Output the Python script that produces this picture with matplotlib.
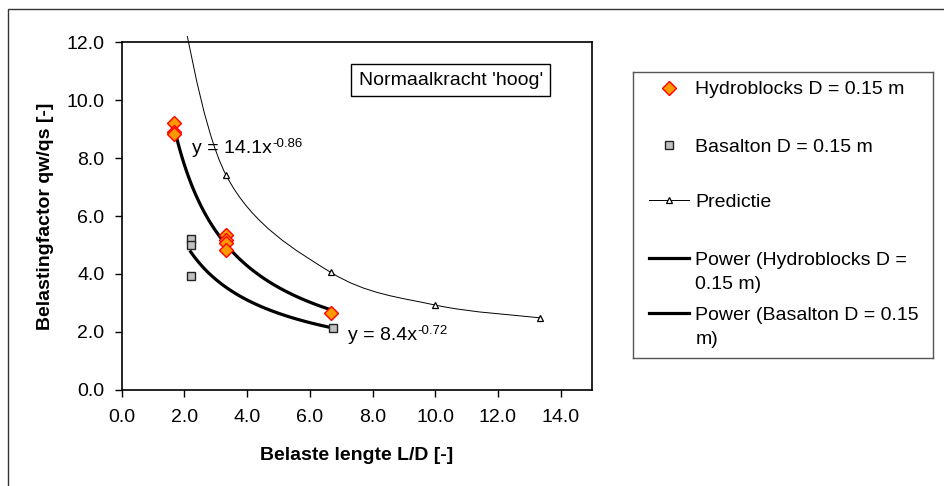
import numpy as np
import matplotlib
matplotlib.use("Agg")
import matplotlib.pyplot as plt
from matplotlib.path import Path
from matplotlib.patches import PathPatch, Rectangle

plt.rcParams["font.family"] = ["Liberation Sans", "DejaVu Sans"]

FS = 14

# data
hydro_x = [1.67, 1.67, 1.67, 3.33, 3.33, 3.33, 3.33, 6.67]
hydro_y = [9.23, 8.91, 8.83, 5.34, 5.17, 5.08, 4.82, 2.66]
basalt_x = [2.2, 2.2, 2.2, 6.75]
basalt_y = [5.19, 5.0, 3.92, 2.13]
pred_x = [1.67, 3.33, 6.67, 10.0, 13.33]
pred_y = [14.5, 7.41, 4.05, 2.92, 2.48]  # first point lies above the plot

# power trendlines as printed on the chart (a, b) -> y = a * x^b
trend_hydro = (14.1, -0.86)
trend_basalt = (8.4, -0.72)

xticks = [0, 2, 4, 6, 8, 10, 12, 14]
yticks = [0, 2, 4, 6, 8, 10, 12]

lbl_hydro = "Hydroblocks D = 0.15 m"
lbl_basalt = "Basalton D = 0.15 m"
lbl_pred = "Predictie"
lbl_pow_hydro = "Power (Hydroblocks D =\n0.15 m)"
lbl_pow_basalt = "Power (Basalton D = 0.15\nm)"

W, H = 945, 486
fig = plt.figure(figsize=(W / 100, H / 100), dpi=100)

# outer chart border (only top and left visible)
fig.add_artist(Rectangle((8 / W, -0.5), 2, 1.5 - 9 / H, transform=fig.transFigure,
                         fill=False, ec="#333333", lw=1))

ax = fig.add_axes([121.7 / W, 1 - 389.5 / H, (592 - 121.7) / W, 347 / H])


def smooth_path(xs, ys):
    # excel-like smoothed line: bezier segments through the data points
    pts = np.column_stack([xs, ys])
    n = len(pts)
    verts = [pts[0]]
    codes = [Path.MOVETO]
    for i in range(n - 1):
        p0 = pts[max(i - 1, 0)]
        p1 = pts[i]
        p2 = pts[i + 1]
        p3 = pts[min(i + 2, n - 1)]
        verts += [p1 + (p2 - p0) / 6, p2 - (p3 - p1) / 6, p2]
        codes += [Path.CURVE4] * 3
    return Path(verts, codes)


pred_line = PathPatch(smooth_path(pred_x, pred_y), fill=False, ec="black", lw=0.7,
                      transform=ax.transData)
ax.add_patch(pred_line)
pred_line.set_clip_path(Rectangle((0, 0), 1, 1 + 7 / 347, transform=ax.transAxes))
ax.plot(pred_x, pred_y, ls="none", marker="^", ms=5, mfc="white", mec="black", mew=0.9,
        zorder=4)

# trendlines
for (a, b), xs in [(trend_hydro, hydro_x), (trend_basalt, basalt_x)]:
    xx = np.linspace(min(xs), max(xs), 100)
    ax.plot(xx, a * xx ** b, color="black", lw=2.3, zorder=3)

ax.plot(basalt_x, basalt_y, ls="none", marker="s", ms=6.4, mfc="#c0c0c0", mec="#222222",
        mew=1, zorder=5)
ax.plot(hydro_x, hydro_y, ls="none", marker="D", ms=6.8, mfc="#ff9900", mec="#ff0000",
        mew=1, zorder=6)


def equation(x, y, a, b):
    base = ax.text(x, y, f"y = {a:.1f}x", fontsize=FS, ha="left", va="baseline")
    ax.annotate(f"{b:.2f}", xy=(1, 1), xycoords=base, xytext=(0.3, 1.5),
                textcoords="offset points", fontsize=FS * 0.68, ha="left", va="top")


equation(2.23, 8.17, *trend_hydro)
equation(7.22, 1.71, *trend_basalt)

ax.text(0.6996, 0.891, "Normaalkracht 'hoog'", transform=ax.transAxes, fontsize=FS,
        ha="center", va="center",
        bbox=dict(boxstyle="square,pad=0.38", fc="white", ec="black", lw=1))

ax.set_xlim(0, 15)
ax.set_ylim(0, 12)
ax.set_xticks(xticks)
ax.set_yticks(yticks)
ax.set_xticklabels([f"{v:.1f}" for v in xticks])
ax.set_yticklabels([f"{v:.1f}" for v in yticks])
ax.tick_params(direction="out", length=5, width=1, labelsize=FS)
ax.tick_params(axis="x", pad=9)
ax.tick_params(axis="y", pad=7.5)
for s in ax.spines.values():
    s.set_linewidth(1.2)

ax.set_xlabel("Belaste lengte L/D [-]", fontsize=FS, fontweight="bold")
ax.set_ylabel("Belastingfactor qw/qs [-]", fontsize=FS, fontweight="bold")
ax.xaxis.set_label_coords(0.5, -0.165)
ax.yaxis.set_label_coords(-0.144, 0.5)

# legend panel drawn by hand (excel spacing)
lx0, ly0, lw_, lh_ = 633.3, 72.3, 300.0, 286.0
lax = fig.add_axes([lx0 / W, 1 - (ly0 + lh_) / H, lw_ / W, lh_ / H])
lax.set_xlim(0, lw_)
lax.set_ylim(lh_, 0)
lax.set_xticks([])
lax.set_yticks([])
for s in lax.spines.values():
    s.set_color("#555555")
    s.set_linewidth(1)

entries = [
    (lbl_hydro, dict(ls="none", marker="D", ms=6.8, mfc="#ff9900", mec="#ff0000", mew=1)),
    (lbl_basalt, dict(ls="none", marker="s", ms=6.4, mfc="#c0c0c0", mec="#222222", mew=1)),
    (lbl_pred, dict(ls="-", lw=0.7, color="black", marker="^", ms=5, mfc="white",
                    mec="black", mew=0.9)),
    (lbl_pow_hydro, dict(ls="-", lw=2.3, color="black")),
    (lbl_pow_basalt, dict(ls="-", lw=2.3, color="black")),
]
row_y = [15.4, 72.7, 127.7, 185.7, 241.0]
for (label, style), ry in zip(entries, row_y):
    if style["ls"] == "none":
        lax.plot([36], [ry], **style)
    else:
        lax.plot([16, 56], [ry, ry], **{k: v for k, v in style.items() if k != "marker"})
        if "marker" in style:
            lax.plot([36], [ry], ls="none", marker=style["marker"], ms=style["ms"],
                     mfc=style["mfc"], mec=style["mec"], mew=style["mew"])
    for k, line in enumerate(label.split("\n")):
        lax.text(62, ry + 6.5 + 24 * k, line, fontsize=FS, ha="left", va="baseline")

fig.savefig("out.png", dpi=100)
